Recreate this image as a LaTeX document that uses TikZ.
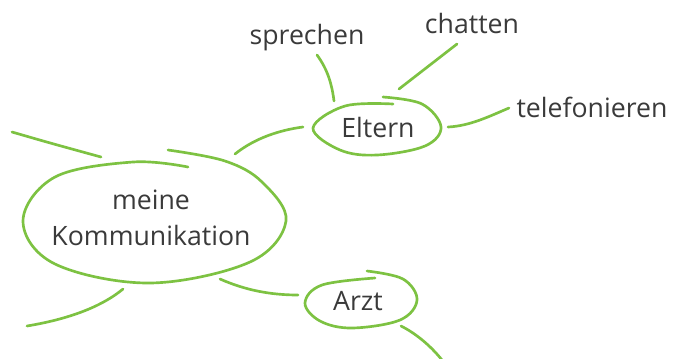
\documentclass[tikz,border=0pt]{standalone}
\usepackage{fontspec}
\setmainfont{Open Sans}
\definecolor{lgreen}{HTML}{7DC242}
\definecolor{txt}{HTML}{3A3A3A}
\begin{document}
\begin{tikzpicture}[x=0.75pt,y=-0.75pt,
  stroke/.style={draw=lgreen,line width=2pt,line cap=round},
  lbl/.style={text=txt,font=\fontsize{20pt}{27pt}\selectfont,inner sep=0pt,align=center}]
\useasboundingbox (0,0) rectangle (684,358);
% texts
\node[lbl] (main) at (151,218) {meine\\Kommunikation};
\node[lbl] (eltern) at (378,127) {Eltern};
\node[lbl] (arzt) at (358,301) {Arzt};
\node[lbl] (sprechen) at (307,38) {sprechen};
\node[lbl] (chatten) at (472,23) {chatten};
\node[lbl] (tele) at (592,107) {telefonieren};
% ellipses (hand drawn)
\draw[stroke] plot[smooth,tension=0.6] coordinates {(188,167) (133,162) (55,177) (23,221) (55,264) (150,283) (250,262) (286,221) (262,182) (225,161) (168,150)};
\draw[stroke] plot[smooth,tension=0.6] coordinates {(393,104) (345,106) (313,128) (340,150) (377,155) (425,146) (441,127) (422,104) (383,97)};
\draw[stroke] plot[smooth,tension=0.6] coordinates {(375,278) (322,285) (305,303) (320,321) (352,328) (400,320) (417,300) (403,279) (367,271)};
% connector end points
\coordinate (m1) at (12,132); \coordinate (m1e) at (101,157);
\coordinate (m2) at (27,326); \coordinate (m2e) at (123,289);
\coordinate (me) at (235,154); \coordinate (el) at (303,127);
\coordinate (ma) at (220,279); \coordinate (ar) at (298,295);
\coordinate (sp1) at (317,55); \coordinate (sp2) at (334,101);
\coordinate (ch1) at (457,44); \coordinate (ch2) at (399,89);
\coordinate (te1) at (509,108); \coordinate (te2) at (448,127);
\coordinate (az1) at (401,326); \coordinate (az2) at (442,360);
% connectors
\draw[stroke] (m1) .. controls (50,143) .. (m1e);
\draw[stroke] (m2) .. controls (75,318) and (105,304) .. (m2e);
\draw[stroke] (me) .. controls (255,138) and (280,130) .. (el);
\draw[stroke] (ma) .. controls (245,290) and (270,295) .. (ar);
\draw[stroke] (sp1) .. controls (328,70) and (332,85) .. (sp2);
\draw[stroke] (ch1) -- (ch2);
\draw[stroke] (te2) .. controls (470,126) and (490,116) .. (te1);
\draw[stroke] (az1) .. controls (415,333) and (430,345) .. (az2);
\end{tikzpicture}
\end{document}
